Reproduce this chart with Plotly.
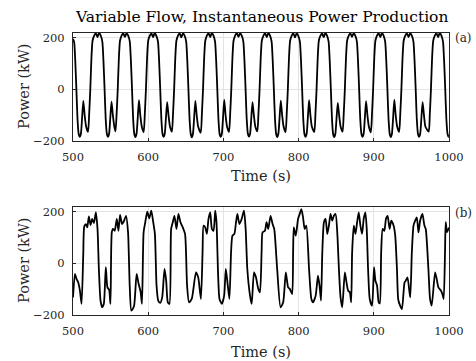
import plotly.graph_objects as go

# ---------------- data ----------------
x_ticks = [500, 600, 700, 800, 900, 1000]
y_ticks = [-200, 0, 200]
title_text = "Variable Flow, Instantaneous Power Production"
x_label = "Time (s)"
y_label = "Power (kW)"
panel_tags = ["(a)", "(b)"]

# (a) constant-ish cycles
t_a = [
    500.0, 501.5, 503.0, 504.5, 506.0, 507.5, 509.0, 510.5, 512.0, 513.7, 515.5, 517.5,
    520.0, 521.5, 523.0, 524.5, 526.0, 528.0, 530.3, 532.5, 534.7, 537.0, 539.0, 540.5, 542.0, 543.5, 545.0, 546.5, 548.0, 549.5, 551.2, 553.0, 555.0,
    556.5, 558.0, 559.5, 561.0, 562.5, 564.5, 566.8, 569.0, 571.2, 573.5, 575.5, 577.0, 578.5, 580.0, 581.5, 583.0, 584.5, 586.0, 587.7, 589.5, 591.5,
    594.0, 595.5, 597.0, 598.5, 600.0, 602.0, 604.3, 606.5, 608.7, 611.0, 613.0, 614.5, 616.0, 617.5, 619.0, 620.5, 622.0, 623.5, 625.2, 627.0, 629.0,
    631.5, 633.0, 634.5, 636.0, 637.5, 639.5, 641.8, 644.0, 646.2, 648.5, 650.5, 652.0, 653.5, 655.0, 656.5, 658.0, 659.5, 661.0, 662.7, 664.5, 666.5,
    669.9, 671.4, 672.9, 674.4, 675.9, 677.9, 680.2, 682.4, 684.6, 686.9, 688.9, 690.4, 691.9, 693.4, 694.9, 696.4, 697.9, 699.4, 701.1, 702.9, 704.9,
    707.5, 709.0, 710.5, 712.0, 713.5, 715.5, 717.8, 720.0, 722.2, 724.5, 726.5, 728.0, 729.5, 731.0, 732.5, 734.0, 735.5, 737.0, 738.7, 740.5, 742.5,
    745.1, 746.6, 748.1, 749.6, 751.1, 753.1, 755.4, 757.6, 759.8, 762.1, 764.1, 765.6, 767.1, 768.6, 770.1, 771.6, 773.1, 774.6, 776.3, 778.1, 780.1,
    782.7, 784.2, 785.7, 787.2, 788.7, 790.7, 793.0, 795.2, 797.4, 799.7, 801.7, 803.2, 804.7, 806.2, 807.7, 809.2, 810.7, 812.2, 813.9, 815.7, 817.7,
    820.9, 822.4, 823.9, 825.4, 826.9, 828.9, 831.2, 833.4, 835.6, 837.9, 839.9, 841.4, 842.9, 844.4, 845.9, 847.4, 848.9, 850.4, 852.1, 853.9, 855.9,
    858.5, 860.0, 861.5, 863.0, 864.5, 866.5, 868.8, 871.0, 873.2, 875.5, 877.5, 879.0, 880.5, 882.0, 883.5, 885.0, 886.5, 888.0, 889.7, 891.5, 893.5,
    896.1, 897.6, 899.1, 900.6, 902.1, 904.1, 906.4, 908.6, 910.8, 913.1, 915.1, 916.6, 918.1, 919.6, 921.1, 922.6, 924.1, 925.6, 927.3, 929.1, 931.1,
    933.7, 935.2, 936.7, 938.2, 939.7, 941.7, 944.0, 946.2, 948.4, 950.7, 952.7, 954.2, 955.7, 957.2, 958.7, 960.2, 961.7, 963.2, 964.9, 966.7, 968.7,
    973.0, 974.5, 976.0, 977.5, 979.0, 981.0, 983.3, 985.5, 987.7, 990.0, 992.0, 993.5, 995.0, 996.5, 998.0, 999.5, 1000.0,
]
p_a = [
    195, 183, 110, 0, -115, -172, -184, -172, -115, -45, -100, -145,
    -165, -95, 0, 120, 188, 207, 217, 202, 218, 207, 185, 110, 0, -115, -172, -184, -172, -115, -48, -100, -145,
    -163, -95, 0, 120, 188, 207, 217, 203, 217, 207, 185, 110, 0, -115, -173, -185, -172, -115, -42, -100, -145,
    -166, -95, 0, 120, 188, 207, 216, 202, 218, 206, 185, 110, 0, -115, -172, -184, -172, -115, -50, -100, -145,
    -164, -95, 0, 120, 188, 207, 217, 201, 217, 207, 185, 110, 0, -115, -172, -186, -172, -115, -45, -100, -145,
    -168, -95, 0, 120, 188, 207, 217, 202, 218, 207, 185, 110, 0, -115, -172, -184, -172, -115, -40, -100, -145,
    -165, -95, 0, 120, 188, 207, 218, 203, 217, 207, 185, 110, 0, -115, -171, -183, -172, -115, -50, -100, -145,
    -163, -95, 0, 120, 188, 207, 217, 202, 218, 207, 185, 110, 0, -115, -172, -185, -172, -115, -44, -100, -145,
    -166, -95, 0, 120, 188, 207, 217, 201, 217, 206, 185, 110, 0, -115, -172, -184, -172, -115, -42, -100, -145,
    -165, -95, 0, 120, 188, 207, 216, 202, 218, 207, 185, 110, 0, -115, -173, -185, -172, -115, -53, -100, -145,
    -164, -95, 0, 120, 188, 207, 217, 203, 217, 207, 185, 110, 0, -115, -172, -184, -172, -115, -46, -100, -145,
    -167, -95, 0, 120, 188, 207, 217, 202, 218, 207, 185, 110, 0, -115, -172, -185, -172, -115, -40, -100, -145,
    -165, -95, 0, 120, 188, 207, 217, 202, 217, 207, 185, 110, 0, -115, -172, -184, -172, -115, -50, -100, -145,
    -164, -95, 0, 120, 188, 207, 217, 202, 218, 207, 185, 110, 0, -115, -172, -184, -182,
]

# (b) irregular cycles
t_b = [
    500.0, 502.6, 504.8, 507.0, 509.2, 511.4, 513.6, 515.0, 517.2, 519.0, 521.1, 523.3, 525.5, 527.8, 530.4, 532.6,
    534.4, 536.6, 538.8, 541.0, 543.6, 545.8, 548.0, 549.8, 551.6, 553.3, 555.5, 558.2, 560.4, 562.6, 565.2, 567.9,
    570.5, 573.2, 575.4, 577.6, 581.1, 584.6, 587.3, 589.9, 591.7, 593.9, 596.1, 598.8, 601.4, 604.1, 606.7, 608.9,
    611.1, 613.3, 616.0, 618.6, 621.7, 623.9, 626.1, 628.3, 630.5, 632.7, 634.9, 637.6, 640.2, 642.9, 646.0, 649.0,
    651.7, 654.3, 657.9, 663.5, 666.5, 670.1, 672.3, 673.6, 675.8, 678.0, 680.2, 682.5, 684.7, 686.9, 689.1, 690.8,
    693.0, 694.8, 697.9, 701.0, 703.2, 705.4, 708.0, 710.2, 712.0, 714.6, 716.8, 718.6, 721.3, 724.3, 727.4, 729.6,
    731.8, 735.4, 737.6, 740.7, 743.3, 746.4, 748.6, 750.8, 752.1, 755.2, 757.4, 759.6, 762.7, 765.4, 767.6, 771.5,
    776.0, 779.5, 783.0, 786.1, 788.3, 791.4, 792.7, 793.6, 796.2, 799.3, 801.5, 803.7, 805.9, 808.1, 810.3, 813.9,
    817.0, 819.2, 822.7, 825.8, 828.0, 829.8, 831.5, 833.7, 835.9, 838.1, 840.3, 842.5, 844.7, 846.9, 849.2, 851.4,
    853.6, 855.8, 858.0, 861.5, 863.7, 865.9, 868.1, 869.9, 871.2, 873.4, 875.6, 877.8, 880.0, 882.2, 884.4, 886.6,
    888.8, 890.6, 892.4, 894.6, 897.7, 900.3, 902.1, 904.3, 906.5, 908.0, 909.8, 911.8, 914.0, 916.2, 918.4, 921.0,
    923.2, 926.3, 928.5, 930.8, 932.5, 935.1, 937.4, 940.9, 942.6, 944.8, 948.4, 950.6, 952.8, 955.0, 957.2, 959.4,
    961.6, 964.7, 967.3, 969.1, 972.6, 974.8, 977.0, 981.5, 983.7, 985.9, 989.4, 991.2, 992.9, 994.7, 995.6, 997.4,
    1000.0,
]
p_b = [
    -132, -41, -61, -74, -106, -157, 30, 143, 152, 139, 182, 148, 172, 156, 197, 133,
    -22, -144, -170, -157, -15, -93, -102, -157, 120, 133, 126, 172, 126, 187, 152, 165,
    184, 120, -86, -183, -166, -41, -80, -110, -157, 120, 159, 200, 174, 204, 159, 114,
    -86, -144, -153, -132, -22, -67, -151, -157, 133, 159, 184, 133, 191, 159, 139, 114,
    -86, -151, -138, -35, -54, -138, 43, 146, 139, 114, 172, 197, 133, 126, 204, 159,
    -48, -138, -157, -125, -22, -74, -138, 43, 107, 114, 159, 191, 152, 172, 204, 133,
    -22, -125, -157, -35, -54, -99, -112, 43, 120, 126, 159, 133, 184, 152, 133, -22,
    -170, -151, -35, -93, -99, -119, 43, 139, 107, 172, 191, 210, 178, 133, 146, -22,
    -138, -151, -125, -48, -90, -144, 40, 159, 172, 114, 146, 191, 165, 184, 191, 120,
    -22, -132, -170, -35, -74, -106, -112, -151, 43, 146, 114, 159, 197, 146, 114, 172,
    197, 133, -22, -138, -164, -15, -67, -86, -151, -155, 43, 133, 126, 172, 184, 133,
    165, 146, 107, -22, -140, -165, -177, -74, -67, -54, -132, 43, 146, 165, 178, 120,
    165, 191, 146, 133, -22, -138, -164, -35, -61, -93, -106, -119, -138, 43, 159, 120,
    139,
]

# ---------------- figure ----------------
FONT = "DejaVu Serif"
W, H = 476, 361
L, R, T, B = 73, 25, 33, 46
PH = H - T - B
PW = W - L - R

def py(y):
    return (H - B - y) / PH

def px(x):
    return (x - L) / PW

line_style = dict(color="black", width=1.8, shape="spline", smoothing=0.6)

fig = go.Figure()
fig.add_trace(go.Scatter(x=t_a, y=p_a, mode="lines", line=line_style,
                         xaxis="x", yaxis="y", showlegend=False, hoverinfo="skip"))
fig.add_trace(go.Scatter(x=t_b, y=p_b, mode="lines", line=line_style,
                         xaxis="x2", yaxis="y2", showlegend=False, hoverinfo="skip"))

ax_common = dict(
    showline=True, mirror=True, linecolor="#262626", linewidth=1,
    ticks="inside", ticklen=3, tickcolor="#262626",
    showgrid=True, gridcolor="#e3e3e3", gridwidth=1, zeroline=False,
    tickfont=dict(family=FONT, size=11.5, color="#262626"),
)

h_panel = 108 / PH
fig.update_layout(
    width=W, height=H,
    margin=dict(l=L, r=R, t=T, b=B, pad=0),
    paper_bgcolor="white", plot_bgcolor="white",
    xaxis=dict(domain=[0, 1], range=[500, 1000], tickvals=x_ticks, anchor="y", ticklabelstandoff=5, **ax_common),
    yaxis=dict(domain=[1 - h_panel, 1], range=[-200, 218], tickvals=y_ticks, anchor="x", ticklabelstandoff=5, **ax_common),
    xaxis2=dict(domain=[0, 1], range=[500, 1000], tickvals=x_ticks, anchor="y2", ticklabelstandoff=5, **ax_common),
    yaxis2=dict(domain=[0, h_panel], range=[-200, 218], tickvals=y_ticks, anchor="x2", ticklabelstandoff=5, **ax_common),
)

ann_font = dict(family=FONT, size=14.5, color="#262626")
annotations = [
    dict(text=title_text, x=0.5, y=py(17), xref="paper", yref="paper", xanchor="center", yanchor="middle",
         showarrow=False, font=dict(family=FONT, size=15.5, color="black")),
    dict(text=y_label, x=px(23), y=py(86.7), xref="paper", yref="paper", xanchor="center", yanchor="middle",
         textangle=-90, showarrow=False, font=ann_font),
    dict(text=y_label, x=px(23), y=py(260.7), xref="paper", yref="paper", xanchor="center", yanchor="middle",
         textangle=-90, showarrow=False, font=ann_font),
    dict(text=x_label, x=0.5, y=py(176), xref="paper", yref="paper", xanchor="center", yanchor="middle",
         showarrow=False, font=ann_font),
    dict(text=x_label, x=0.5, y=py(352), xref="paper", yref="paper", xanchor="center", yanchor="middle",
         showarrow=False, font=ann_font),
    dict(text=panel_tags[0], x=px(455), y=py(37.5), xref="paper", yref="paper", xanchor="left", yanchor="middle",
         showarrow=False, font=dict(family=FONT, size=12, color="#262626")),
    dict(text=panel_tags[1], x=px(455), y=py(212.5), xref="paper", yref="paper", xanchor="left", yanchor="middle",
         showarrow=False, font=dict(family=FONT, size=12, color="#262626")),
]
fig.update_layout(annotations=annotations)

fig.write_html("out.html")
